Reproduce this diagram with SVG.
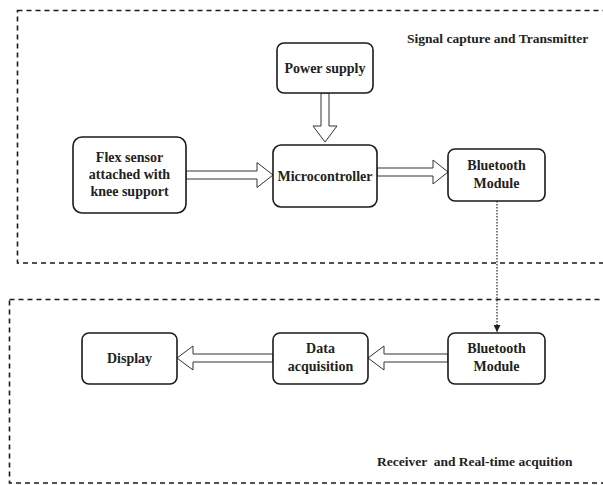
<svg xmlns="http://www.w3.org/2000/svg" width="603" height="485" viewBox="0 0 603 485">
<defs>
<style>
.grp{fill:none;stroke:#1a1a1a;stroke-width:1.6;stroke-dasharray:5 4}
.box{fill:#fff;stroke:#1a1a1a;stroke-width:1.6}
.t{font-family:"Liberation Serif","Times New Roman",serif;font-weight:bold;font-size:14px;fill:#222;text-anchor:middle}
.lbl{font-family:"Liberation Serif","Times New Roman",serif;font-weight:bold;font-size:13.5px;fill:#222}
.ha{fill:#fff;stroke:#333;stroke-width:1}
.dot{fill:none;stroke:#444;stroke-width:1.4;stroke-dasharray:1.5 1.5}
</style>
<marker id="ah" viewBox="0 0 10 10" refX="10" refY="5" markerWidth="7" markerHeight="7" markerUnits="userSpaceOnUse" orient="auto">
<path d="M0,0 L10,5 L0,10 z" fill="#222"/>
</marker>
</defs>
<rect width="603" height="485" fill="#fff"/>
<g id="group-transmitter">
<rect class="grp" x="17.5" y="10.5" width="590" height="252.5"/>
<text class="lbl" x="407" y="43">Signal capture and Transmitter</text>
</g>
<g id="group-receiver">
<rect class="grp" x="9.5" y="299.5" width="598" height="183.5"/>
<text class="lbl" x="377" y="466" xml:space="preserve">Receiver  and Real-time acquition</text>
</g>
<g id="connectors">
<polygon class="ha" points="186,171 257,171 257,162.5 273,175 257,187.5 257,179 186,179"/>
<polygon class="ha" points="321,93 329,93 329,126 337,126 325,142 313,126 321,126"/>
<polygon class="ha" points="377,168 433,168 433,160 448,172 433,184 433,176 377,176"/>
<polygon class="ha" points="448,354 384,354 384,346 368,358 384,370 384,362 448,362"/>
<polygon class="ha" points="273,354 193,354 193,346 177,358 193,370 193,362 273,362"/>
<line class="dot" x1="497" y1="201" x2="497" y2="332" marker-end="url(#ah)"/>
</g>
<g id="power-supply">
<rect class="box" x="277" y="43" width="96" height="50" rx="7"/>
<text class="t" x="325" y="73">Power supply</text>
</g>
<g id="flex-sensor">
<rect class="box" x="73" y="137" width="113" height="76" rx="9"/>
<text class="t" x="129.5" y="162">Flex sensor</text>
<text class="t" x="129.5" y="179">attached with</text>
<text class="t" x="129.5" y="196">knee support</text>
</g>
<g id="microcontroller">
<rect class="box" x="273" y="145" width="104" height="62" rx="8"/>
<text class="t" x="325" y="181">Microcontroller</text>
</g>
<g id="bluetooth-tx">
<rect class="box" x="448" y="149" width="97" height="52" rx="7"/>
<text class="t" x="496.5" y="170">Bluetooth</text>
<text class="t" x="496.5" y="188">Module</text>
</g>
<g id="bluetooth-rx">
<rect class="box" x="448" y="333" width="97" height="51" rx="7"/>
<text class="t" x="496.5" y="353">Bluetooth</text>
<text class="t" x="496.5" y="371">Module</text>
</g>
<g id="data-acquisition">
<rect class="box" x="273" y="333" width="95" height="51" rx="7"/>
<text class="t" x="320.5" y="353">Data</text>
<text class="t" x="320.5" y="371">acquisition</text>
</g>
<g id="display">
<rect class="box" x="82" y="333" width="95" height="51" rx="7"/>
<text class="t" x="129.5" y="363">Display</text>
</g>
</svg>
